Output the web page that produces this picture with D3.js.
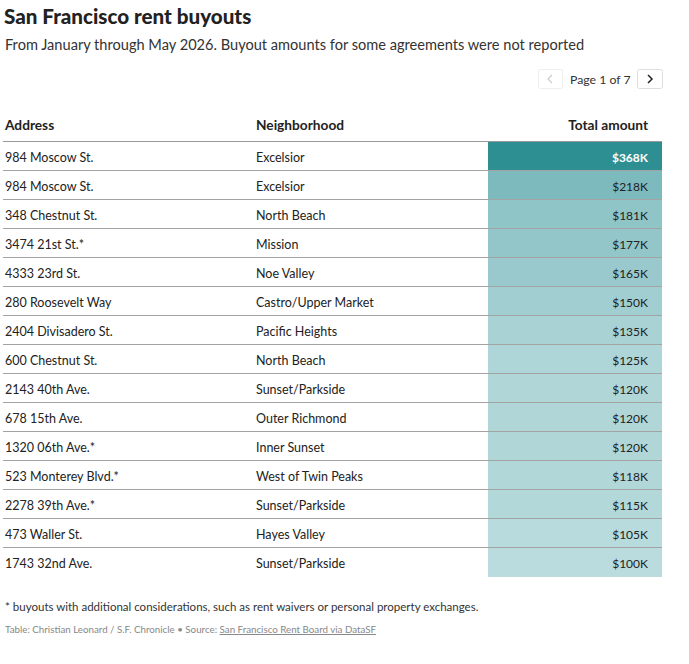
<!DOCTYPE html>
<html><head><meta charset="utf-8">
<script src="https://cdn.jsdelivr.net/npm/d3@7"></script>
<style>
body{margin:0;background:#fff;}
svg{display:block;}
</style></head>
<body>
<svg id="chart" width="689" height="664"></svg>
<script>
const addresses = ["984 Moscow St.","984 Moscow St.","348 Chestnut St.","3474 21st St.*","4333 23rd St.","280 Roosevelt Way","2404 Divisadero St.","600 Chestnut St.","2143 40th Ave.","678 15th Ave.","1320 06th Ave.*","523 Monterey Blvd.*","2278 39th Ave.*","473 Waller St.","1743 32nd Ave."];
const neighborhoods = ["Excelsior","Excelsior","North Beach","Mission","Noe Valley","Castro/Upper Market","Pacific Heights","North Beach","Sunset/Parkside","Outer Richmond","Inner Sunset","West of Twin Peaks","Sunset/Parkside","Hayes Valley","Sunset/Parkside"];
const amounts = [368,218,181,177,165,150,135,125,120,120,120,118,115,105,100];
const headers = ["Address","Neighborhood","Total amount"];

const svg = d3.select("#chart");
const font = "Lato, 'Open Sans', sans-serif";

svg.append("text").attr("x",4).attr("y",24).attr("font-family",font).attr("font-weight",900)
  .attr("font-size",20.6).attr("fill","#222").text("San Francisco rent buyouts");
svg.append("text").attr("x",5).attr("y",50).attr("font-family",font)
  .attr("font-size",14.6).attr("fill","#333").text("From January through May 2026. Buyout amounts for some agreements were not reported");

// pagination
const pg = svg.append("g");
pg.append("rect").attr("x",538.5).attr("y",69.5).attr("width",24).attr("height",19).attr("rx",2)
  .attr("fill","#fff").attr("stroke","#eee");
pg.append("path").attr("d","M552,75 L548,79 L552,83").attr("fill","none").attr("stroke","#ccc").attr("stroke-width",1.2);
pg.append("text").attr("x",570).attr("y",84).attr("font-family",font).attr("font-size",12.3).attr("fill","#333").text("Page 1 of 7");
pg.append("rect").attr("x",637.5).attr("y",69.5).attr("width",25).attr("height",19).attr("rx",2)
  .attr("fill","#fff").attr("stroke","#ddd");
pg.append("path").attr("d","M648,75 L652,79 L648,83").attr("fill","none").attr("stroke","#222").attr("stroke-width",1.5);

// columns
const colX = {addr:5, nb:256, amtRight:648};
const cellX0 = 488, cellX1 = 662;
const headY = 130;
const hs = 13.7;
svg.append("text").attr("x",colX.addr).attr("y",headY).attr("font-family",font).attr("font-weight",700)
  .attr("font-size",hs).attr("fill","#222").text(headers[0]);
svg.append("text").attr("x",colX.nb).attr("y",headY).attr("font-family",font).attr("font-weight",700)
  .attr("font-size",hs).attr("fill","#222").text(headers[1]);
svg.append("text").attr("x",colX.amtRight).attr("y",headY).attr("text-anchor","end").attr("font-family",font).attr("font-weight",700)
  .attr("font-size",hs).attr("fill","#222").text(headers[2]);

const y = d3.scaleBand().domain(d3.range(amounts.length)).range([142, 142 + 29*amounts.length]).padding(0);
const color = d3.scaleLinear().domain([d3.min(amounts), d3.max(amounts)]).range(["#bbdcde","#2e8f92"]);

const rows = svg.append("g").selectAll("g").data(amounts).join("g")
  .attr("transform",(d,i)=>`translate(0,${y(i)})`);
rows.append("rect").attr("x",cellX0).attr("y",0).attr("width",cellX1-cellX0).attr("height",y.bandwidth())
  .attr("fill",d=>color(d));
rows.append("text").attr("x",colX.addr).attr("y",19.5).attr("font-family",font).attr("font-size",12.5)
  .attr("fill","#222").text((d,i)=>addresses[i]);
rows.append("text").attr("x",colX.nb).attr("y",19.5).attr("font-family",font).attr("font-size",12.5)
  .attr("fill","#222").text((d,i)=>neighborhoods[i]);
rows.append("text").attr("x",colX.amtRight).attr("y",19.5).attr("text-anchor","end").attr("font-family",font)
  .attr("font-size",12).attr("font-weight",(d,i)=>i===0?700:400)
  .attr("fill",(d,i)=>i===0?"#fff":"#222").text(d=>`$${d}K`);

// lines
svg.append("line").attr("x1",3).attr("x2",cellX1).attr("y1",141.5).attr("y2",141.5).attr("stroke","#999").attr("stroke-width",1);
svg.append("g").selectAll("line").data(d3.range(1,amounts.length)).join("line")
  .attr("x1",3).attr("x2",cellX1).attr("y1",i=>y(i)-0.5).attr("y2",i=>y(i)-0.5)
  .attr("stroke","#a3a3a3").attr("stroke-width",1);

// notes
svg.append("text").attr("x",5).attr("y",611).attr("font-family",font).attr("font-size",11.5).attr("fill","#333")
  .text("* buyouts with additional considerations, such as rent waivers or personal property exchanges.");
const cr = svg.append("text").attr("x",5).attr("y",633).attr("font-family",font).attr("font-size",9.75).attr("fill","#888");
cr.append("tspan").text("Table: Christian Leonard / S.F. Chronicle • Source: ");
cr.append("tspan").attr("text-decoration","underline").text("San Francisco Rent Board via DataSF");
</script>
</body></html>
